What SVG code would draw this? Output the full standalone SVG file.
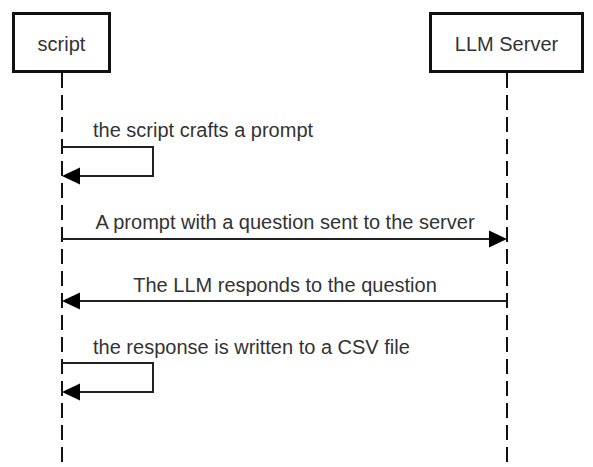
<svg xmlns="http://www.w3.org/2000/svg" width="593" height="467" viewBox="0 0 593 467">
<style>
.box{fill:#fff;stroke:#111;stroke-width:3}
.lbl{font-family:"Liberation Sans",Arial,sans-serif;font-size:20px;fill:#333}
.life{stroke:#111;stroke-width:2;stroke-dasharray:15 7;fill:none}
.msg{stroke:#222;stroke-width:2;fill:none}
.head{fill:#000}
</style>
<rect x="0" y="0" width="593" height="467" fill="#fff"/>
<g id="lifelines">
<line class="life" x1="62" y1="73" x2="62" y2="467"/>
<line class="life" x1="507" y1="73" x2="507" y2="467"/>
</g>
<g id="node-script">
<rect class="box" x="13.5" y="13.5" width="96" height="58"/>
<text class="lbl" x="61.5" y="50.5" text-anchor="middle">script</text>
</g>
<g id="node-llm">
<rect class="box" x="430.5" y="13.5" width="152" height="58"/>
<text class="lbl" x="506.5" y="50.5" text-anchor="middle">LLM Server</text>
</g>
<g id="connectors">
<path class="msg" d="M62 147 H153 V176 H78"/>
<polygon class="head" points="62,176 80,167.5 80,184.5"/>
<text class="lbl" x="93" y="137">the script crafts a prompt</text>
<line class="msg" x1="62" y1="239" x2="491" y2="239"/>
<polygon class="head" points="507,239 489,230.5 489,247.5"/>
<text class="lbl" x="285" y="229" text-anchor="middle">A prompt with a question sent to the server</text>
<line class="msg" x1="78" y1="301" x2="507" y2="301"/>
<polygon class="head" points="62,301 80,292.5 80,309.5"/>
<text class="lbl" x="285" y="292" text-anchor="middle">The LLM responds to the question</text>
<path class="msg" d="M62 363 H153 V392 H78"/>
<polygon class="head" points="62,392 80,383.5 80,400.5"/>
<text class="lbl" x="93" y="354">the response is written to a CSV file</text>
</g>
</svg>
